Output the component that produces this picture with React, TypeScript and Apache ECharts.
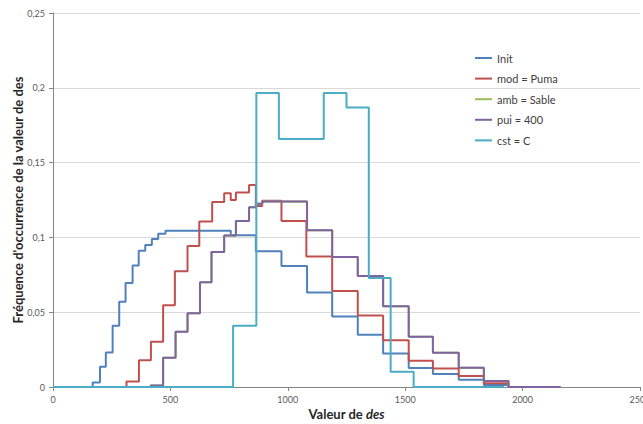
import React, { useEffect, useRef } from "react";
import * as echarts from "echarts";

const seriesNames = ["Init", "mod = Puma", "amb = Sable", "pui = 400", "cst = C"];
const colors = ["#4F81BD", "#C0504D", "#9BBB59", "#8064A2", "#4BACC6"];

const xTicks = [0, 500, 1000, 1500, 2000, 2500];
const yTicks = [0, 0.05, 0.1, 0.15, 0.2, 0.25];

// Step edges (left edge of each bin) and frequency of each bin
const initEdges = [0, 169, 200, 225, 254, 282, 309, 339, 365, 393, 421, 448, 479, 757, 864, 973, 1082, 1189, 1298, 1406, 1515, 1618, 1728, 1835, 1940];
const initLevels = [0, 0.003, 0.0135, 0.023, 0.041, 0.057, 0.0695, 0.0813, 0.091, 0.095, 0.099, 0.1025, 0.1045, 0.1015, 0.0907, 0.0809, 0.0631, 0.0471, 0.0349, 0.0224, 0.0127, 0.0087, 0.0049, 0.0013, 0];

const pumaEdges = [0, 313, 366, 417, 469, 519, 573, 623, 678, 729, 757, 779, 835, 864, 891, 973, 1079, 1189, 1298, 1406, 1515, 1618, 1728, 1835, 1940];
const pumaLevels = [0, 0.0037, 0.0178, 0.0302, 0.0547, 0.0773, 0.0942, 0.1107, 0.1237, 0.1295, 0.125, 0.13, 0.135, 0.121, 0.1245, 0.111, 0.0873, 0.0642, 0.0478, 0.0313, 0.0176, 0.0124, 0.0073, 0.0025, 0];

const sableEdges = [0, 416, 469, 522, 573, 626, 675, 729, 779, 835, 864, 891, 1082, 1189, 1298, 1406, 1515, 1618, 1728, 1835, 1940, 2162];
const sableLevels = [0, 0.001, 0.0195, 0.0369, 0.0493, 0.07, 0.0902, 0.1013, 0.111, 0.1202, 0.1225, 0.124, 0.1047, 0.0869, 0.0742, 0.054, 0.0336, 0.0229, 0.0129, 0.004, 0, 0];

const puiEdges = [0, 416, 469, 522, 573, 626, 675, 729, 779, 835, 864, 891, 1082, 1189, 1298, 1406, 1515, 1618, 1728, 1835, 1940, 2162];
const puiLevels = [0, 0.001, 0.0195, 0.0369, 0.0493, 0.07, 0.0902, 0.1013, 0.111, 0.1202, 0.1225, 0.124, 0.1047, 0.0869, 0.0742, 0.054, 0.0336, 0.0229, 0.0129, 0.004, 0, 0];

const cstEdges = [0, 767, 866, 962, 1153, 1250, 1345, 1438, 1536, 1921];
const cstLevels = [0, 0.0409, 0.1965, 0.1658, 0.1965, 0.1869, 0.0729, 0.0102, 0, 0];

const allEdges = [initEdges, pumaEdges, sableEdges, puiEdges, cstEdges];
const allLevels = [initLevels, pumaLevels, sableLevels, puiLevels, cstLevels];

const FONT = "Lato, 'Open Sans', sans-serif";

export default function App() {
  const ref = useRef<HTMLDivElement>(null);

  useEffect(() => {
    if (!ref.current) return;
    const chart = echarts.init(ref.current, undefined, { renderer: "svg" });

    const series = seriesNames.map((name, i) => ({
      name,
      type: "line",
      step: "end",
      symbol: "none",
      data: allEdges[i].map((x, j) => [x, allLevels[i][j]]),
      lineStyle: { width: 2, color: colors[i] },
      itemStyle: { color: colors[i] },
      z: 2 + i,
    }));

    chart.setOption({
      animation: false,
      backgroundColor: "#ffffff",
      textStyle: { fontFamily: FONT },
      grid: {
        left: 53,
        right: 3,
        top: 13,
        bottom: 37,
        outerBoundsMode: "none",
        containLabel: false,
      },
      legend: {
        orient: "vertical",
        left: 475,
        top: 51,
        padding: 0,
        icon: "rect",
        itemWidth: 17,
        itemHeight: 2,
        itemGap: 6.6,
        data: seriesNames,
        textStyle: { fontSize: 11, color: "#404040", fontFamily: FONT, lineHeight: 14 },
      },
      xAxis: {
        type: "value",
        min: xTicks[0],
        max: xTicks[xTicks.length - 1],
        interval: 500,
        name: "{b|Valeur de }{bi|des}",
        nameLocation: "middle",
        nameGap: 20,
        nameMoveOverlap: false,
        nameTextStyle: {
          rich: {
            b: { fontSize: 13, fontWeight: "bold", color: "#262626", fontFamily: FONT },
            bi: { fontSize: 13, fontWeight: "bold", fontStyle: "italic", color: "#262626", fontFamily: FONT },
          },
        },
        axisLine: { show: true, lineStyle: { color: "#868686", width: 1 } },
        axisTick: { show: true, length: 4, lineStyle: { color: "#868686" } },
        axisLabel: {
          fontSize: 9,
          color: "#595959",
          margin: 8,
          fontFamily: FONT,
          showMaxLabel: true,
          formatter: (v: number) => String(v),
        },
        splitLine: { show: false },
      },
      yAxis: {
        type: "value",
        min: yTicks[0],
        max: yTicks[yTicks.length - 1],
        interval: 0.05,
        name: "Fréquence d'occurrence de la valeur de des",
        nameLocation: "middle",
        nameGap: 29,
        nameMoveOverlap: false,
        nameTextStyle: { fontSize: 13, fontWeight: "bold", color: "#262626", fontFamily: FONT },
        axisLine: { show: true, lineStyle: { color: "#868686", width: 1 } },
        axisTick: { show: true, length: 4, lineStyle: { color: "#868686" } },
        axisLabel: {
          fontSize: 9,
          color: "#595959",
          margin: 8,
          fontFamily: FONT,
          formatter: (v: number) => String(Math.round(v * 100) / 100).replace(".", ","),
        },
        splitLine: { show: true, lineStyle: { color: "#d9d9d9", width: 1 } },
      },
      series,
    });

    return () => chart.dispose();
  }, []);

  return (
    <div
      ref={ref}
      style={{ position: "fixed", left: 0, top: 0, width: 643, height: 424, background: "#fff" }}
    />
  );
}
